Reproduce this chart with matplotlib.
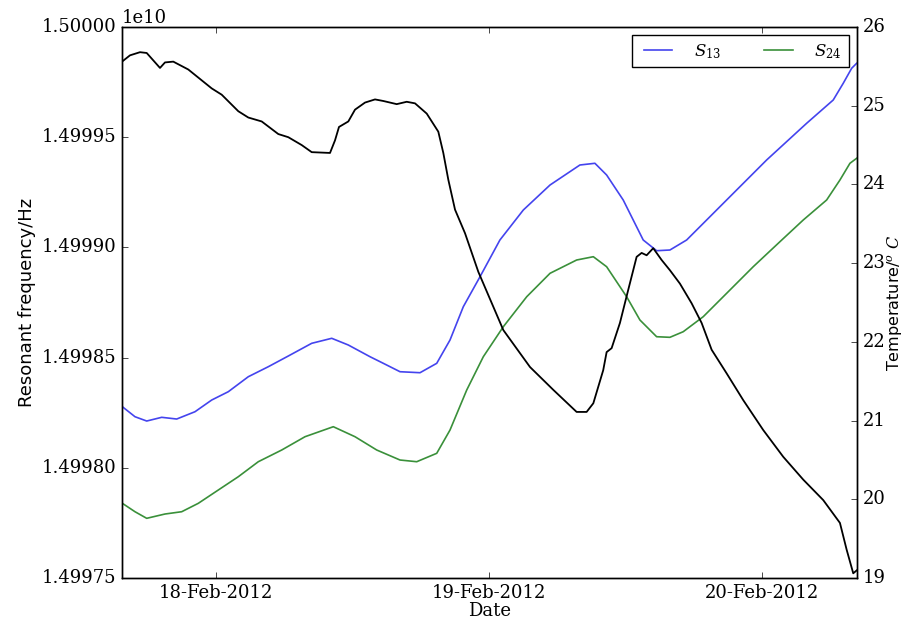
import matplotlib
matplotlib.use("Agg")
import matplotlib.pyplot as plt
import matplotlib.dates as mdates
from matplotlib.ticker import ScalarFormatter
import numpy as np
import datetime as dt

plt.style.use('classic')
plt.rcParams['mathtext.fontset'] = 'dejavuserif'

# ---- data (hours relative to 18-Feb-2012 00:00) ----
temp_hours = [-8.27, -7.57, -6.69, -6.10, -4.93, -4.49, -3.76, -2.44, -0.38, 0.50,
              1.96, 2.84, 4.02, 5.48, 6.36, 7.54, 8.42, 10.03, 10.47, 10.82,
              11.64, 12.23, 13.11, 13.99, 14.72, 15.90, 16.78, 17.51, 18.54, 19.56,
              20.00, 20.44, 21.03, 21.91, 23.08, 25.28, 27.63, 29.68, 31.73, 32.61,
              33.20, 34.07, 34.37, 34.81, 35.54, 36.27, 37.01, 37.45, 37.89, 38.47,
              39.21, 39.94, 40.82, 41.85, 42.73, 43.61, 44.93, 46.39, 48.15, 49.91,
              51.67, 53.43, 54.90, 55.49, 56.07, 56.40]
temp_values = [25.56, 25.64, 25.68, 25.67, 25.48, 25.55, 25.56, 25.46, 25.22, 25.14,
               24.93, 24.85, 24.80, 24.64, 24.60, 24.50, 24.41, 24.40, 24.56, 24.73,
               24.80, 24.95, 25.04, 25.08, 25.06, 25.02, 25.05, 25.03, 24.90, 24.67,
               24.40, 24.06, 23.68, 23.38, 22.89, 22.15, 21.68, 21.39, 21.11, 21.11,
               21.22, 21.64, 21.87, 21.92, 22.24, 22.66, 23.08, 23.13, 23.10, 23.19,
               23.04, 22.91, 22.74, 22.49, 22.24, 21.90, 21.60, 21.26, 20.88, 20.54,
               20.25, 19.99, 19.70, 19.36, 19.06, 19.10]

s13_hours = [-8.24, -7.13, -6.10, -4.78, -3.46, -1.85, -0.38, 1.08, 2.84, 4.60,
             6.36, 8.42, 10.18, 11.64, 13.55, 14.72, 16.19, 17.95, 19.42, 20.59,
             21.76, 23.23, 24.98, 27.04, 29.39, 32.02, 33.34, 34.37, 35.83, 36.71,
             37.59, 38.77, 39.94, 41.41, 43.17, 44.93, 48.45, 51.97, 54.31, 55.19,
             55.93, 56.37]
s13_mhz = [14998.2772, 14998.2318, 14998.2123, 14998.2291, 14998.2214, 14998.2545,
           14998.3076, 14998.3453, 14998.4133, 14998.4587, 14998.5073, 14998.5649,
           14998.5876, 14998.5572, 14998.5041, 14998.4741, 14998.4360, 14998.4315,
           14998.4741, 14998.5799, 14998.7310, 14998.8671, 14999.0336, 14999.1697,
           14999.2831, 14999.3739, 14999.3816, 14999.3285, 14999.2151, 14999.1243,
           14999.0336, 14998.9850, 14998.9882, 14999.0336, 14999.1243, 14999.2151,
           14999.3966, 14999.5631, 14999.6688, 14999.7446, 14999.8126, 14999.8353]

s24_hours = [-8.24, -7.13, -6.10, -4.49, -3.02, -1.56, 0.20, 1.96, 3.72, 5.78,
             7.83, 10.32, 12.23, 14.14, 16.19, 17.66, 19.42, 20.59, 22.06, 23.52,
             25.28, 27.34, 29.39, 31.73, 33.20, 34.37, 36.13, 37.30, 38.77, 39.94,
             41.11, 42.87, 44.93, 47.27, 49.62, 51.67, 53.73, 54.90, 55.78, 56.37]
s24_mhz = [14997.8389, 14997.8008, 14997.7709, 14997.7904, 14997.8008, 14997.8389,
           14997.8993, 14997.9596, 14998.0277, 14998.0808, 14998.1411, 14998.1865,
           14998.1411, 14998.0808, 14998.0354, 14998.0277, 14998.0658, 14998.1715,
           14998.3530, 14998.5041, 14998.6402, 14998.7763, 14998.8825, 14998.9428,
           14998.9578, 14998.9124, 14998.7763, 14998.6706, 14998.5948, 14998.5921,
           14998.6175, 14998.6856, 14998.7917, 14998.9124, 14999.0259, 14999.1243,
           14999.2151, 14999.3058, 14999.3816, 14999.4043]

series_labels = [r'$S_{13}$', r'$S_{24}$']
freq_limits = (1.49975e10, 1.50000e10)
temp_limits = (19, 26)
base_date = dt.datetime(2012, 2, 18)


def to_dates(hours):
    return [base_date + dt.timedelta(hours=h) for h in hours]


fig = plt.figure(figsize=(9.06, 6.22), dpi=100, facecolor='white')
ax = fig.add_axes([0.1347, 0.0707, 0.8112, 0.8859])
ax.set_facecolor('white')

ax.plot(to_dates(s13_hours), np.array(s13_mhz) * 1e6, color='#4444ee', lw=1.2,
        label=series_labels[0])
ax.plot(to_dates(s24_hours), np.array(s24_mhz) * 1e6, color='#3a903a', lw=1.2,
        label=series_labels[1])
ax.set_ylim(*freq_limits)

fmt = ScalarFormatter(useOffset=False)
ax.yaxis.set_major_formatter(fmt)
ax.set_yticks(np.arange(1.49975e10, 1.500001e10, 0.5e6))

ax2 = ax.twinx()
ax2.plot(to_dates(temp_hours), temp_values, color='black', lw=1.3)
ax2.set_ylim(*temp_limits)

all_hours = temp_hours + s13_hours + s24_hours
ax.set_xlim(to_dates([min(all_hours)])[0], to_dates([max(all_hours)])[0])
ax.xaxis.set_major_locator(mdates.DayLocator())
ax.xaxis.set_major_formatter(mdates.DateFormatter('%d-%b-%Y'))

serif = 'DejaVu Serif'
for a in (ax, ax2):
    for lab in a.get_xticklabels() + a.get_yticklabels():
        lab.set_fontfamily(serif)
        lab.set_fontsize(13)
ax.yaxis.get_offset_text().set_fontfamily(serif)
ax.yaxis.get_offset_text().set_fontsize(13)

ax.set_xlabel('Date', fontsize=13, family=serif, labelpad=0)
ax.set_ylabel('Resonant frequency/Hz', fontsize=13, family='DejaVu Sans', labelpad=4)
ax2.set_ylabel(r'Temperature/$^o\ C$', fontsize=11.5, family='DejaVu Sans', labelpad=0)

leg = ax.legend(loc='upper right', ncol=2, fontsize=12, frameon=True,
                handlelength=2.3, columnspacing=2.3, handletextpad=1.0)
leg.get_frame().set_linewidth(1.0)

fig.savefig('out.png', dpi=100, facecolor='white')
